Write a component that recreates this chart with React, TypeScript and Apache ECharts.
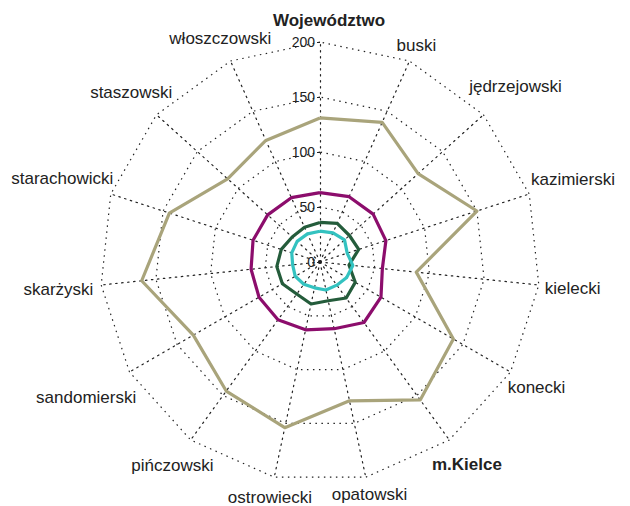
import React, { useEffect, useRef } from "react";
import * as echarts from "echarts";

// Categories listed clockwise from the top
const indicators = [
  "Województwo", "buski", "jędrzejowski", "kazimierski", "kielecki", "konecki", "m.Kielce",
  "opatowski", "ostrowiecki", "pińczowski", "sandomierski", "skarżyski", "starachowicki",
  "staszowski", "włoszczowski",
];
const boldNames = ["Województwo", "m.Kielce"];
const axisMin = 0;
const axisMax = 200;
const splitCount = 4;

const seriesOlive = [131, 139, 120, 150, 88, 140, 155, 129, 154, 145, 133, 163, 144, 113, 121];
const seriesPurple = [63, 65, 65, 63, 57, 64, 68, 62, 63, 65, 64, 63, 64, 64, 64];
const seriesGreen = [36, 38.5, 36, 37, 26.5, 37, 40.5, 36, 39, 36, 39.5, 39.5, 37, 34, 34.5];
const seriesCyan = [28, 29, 30, 26, 30, 28, 26, 26, 24, 25, 26, 25, 27, 28, 28];

// layout: distance of each name's centre beyond the outer ring
const nameGaps = [22, 17, 43, 46, 34, 30, 30, 18, 21, 31, 50, 43, 51, 34, 25];

const FONT = "'Liberation Sans', Arial, Helvetica, sans-serif";

// ECharts radar runs counter-clockwise; reorder so the categories run clockwise
const order = indicators.map((_, i) => (i === 0 ? 0 : indicators.length - i));
const reorder = <T,>(arr: T[]) => order.map((k) => arr[k]);

export default function App() {
  const ref = useRef<HTMLDivElement>(null);
  useEffect(() => {
    if (!ref.current) return;
    const chart = echarts.init(ref.current, undefined, { renderer: "svg" });
    const dotted = { color: "#222", width: 1.2, type: [1.5, 4.5] as any };
    const names = reorder(indicators);
    const gaps = reorder(nameGaps);
    const option: any = {
      animation: false,
      backgroundColor: "#fff",
      radar: {
        center: [320, 262],
        radius: 220,
        startAngle: 90,
        shape: "polygon",
        splitNumber: splitCount,
        axisName: {
          color: "#222",
          fontSize: 17,
          fontFamily: FONT,
          formatter: (name: string) =>
            name === "Województwo" ? `{w|${name}}` : boldNames.includes(name) ? `{b|${name}}` : name,
          rich: {
            b: { fontWeight: "bold", fontSize: 17, fontFamily: FONT, color: "#222" },
            w: { fontWeight: "bold", fontSize: 17, fontFamily: FONT, color: "#222", padding: [0, 0, 0, 18] },
          },
        },
        axisLine: { show: true, lineStyle: dotted },
        splitLine: { show: true, lineStyle: dotted },
        splitArea: { show: false },
        axisLabel: { show: false },
        axisTick: { show: false },
        indicator: names.map((name, i) => {
          const ind: any = {
            name,
            min: axisMin,
            max: axisMax,
            nameGap: gaps[i],
            nameTextStyle: { align: "center", verticalAlign: "middle" },
          };
          if (i === 0) {
            ind.axisLabel = { show: true, fontSize: 14, color: "#222", fontFamily: FONT, margin: 5 };
            ind.axisTick = { show: true, length: 3, lineStyle: { color: "#222", type: "solid", width: 1 } };
          }
          return ind;
        }),
      },
      series: [
        {
          type: "radar",
          symbol: "none",
          silent: true,
          data: [
            { value: reorder(seriesOlive), lineStyle: { color: "#A9A47B", width: 3.2 } },
            { value: reorder(seriesPurple), lineStyle: { color: "#8C0D6C", width: 3.2 } },
            { value: reorder(seriesGreen), lineStyle: { color: "#245C3B", width: 3.2 } },
            { value: reorder(seriesCyan), lineStyle: { color: "#33C2C0", width: 3.2 } },
          ],
        },
      ],
    };
    chart.setOption(option);
    return () => chart.dispose();
  }, []);
  return <div ref={ref} style={{ position: "absolute", left: 0, top: 0, width: 630, height: 506 }} />;
}
